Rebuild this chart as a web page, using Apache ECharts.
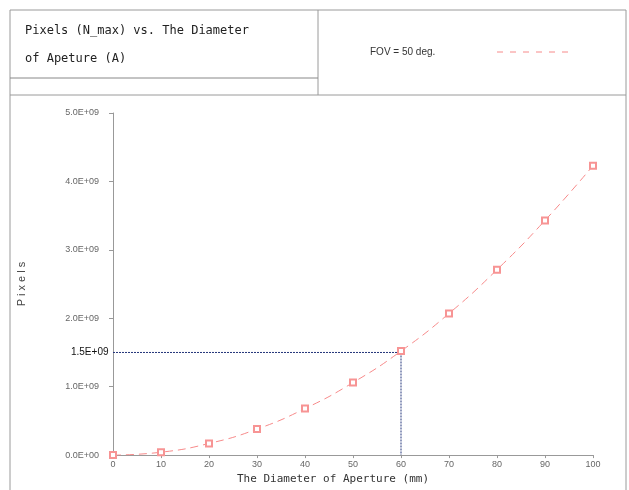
<!DOCTYPE html>
<html><head><meta charset="utf-8">
<script src="https://cdn.jsdelivr.net/npm/echarts@6/dist/echarts.min.js"></script>
<style>html,body{margin:0;padding:0;background:#fff}#c{width:629px;height:490px}</style>
</head><body><div id="c"></div>
<script>
const diameters = [0, 10, 20, 30, 40, 50, 60, 70, 80, 90, 100];
const pixels = [0, 0.042e9, 0.17e9, 0.38e9, 0.68e9, 1.06e9, 1.52e9, 2.07e9, 2.71e9, 3.43e9, 4.23e9];
const guideX = [0, 60, 60];
const guideY = [1.5e9, 1.5e9, 0];
const titleLines = ['Pixels (N_max) vs. The Diameter', 'of Apeture (A)'];
const legendLabel = 'FOV = 50 deg.';
const xName = 'The Diameter of Aperture (mm)';
const yName = 'P i x e l s';
const guideLabel = '1.5E+09';

const fmtY = v => {
  if (v === 0) return '0.0E+00';
  return (v / 1e9).toFixed(1) + 'E+09';
};

const chart = echarts.init(document.getElementById('c'));
const border = '#9a9a9a';
chart.setOption({
  animation: false,
  grid: {left: 113, top: 113, right: 36, bottom: 33},
  xAxis: {
    type: 'value', min: 0, max: 100, interval: 10,
    name: xName, nameLocation: 'middle', nameGap: 16,
    nameTextStyle: {fontFamily: 'DejaVu Sans Mono', fontSize: 11, color: '#333', padding: [0, 40, 0, 0]},
    axisLine: {lineStyle: {color: '#999'}},
    axisTick: {show: true, length: 3, lineStyle: {color: '#999'}},
    axisLabel: {fontSize: 9, color: '#666', margin: 5, fontFamily: 'Liberation Sans'},
    splitLine: {show: false}
  },
  yAxis: {
    type: 'value', min: 0, max: 5e9, interval: 1e9,
    name: yName, nameLocation: 'middle', nameGap: 86, nameRotate: 90,
    nameTextStyle: {fontFamily: 'Liberation Sans', fontSize: 11, color: '#444'},
    axisLine: {show: true, lineStyle: {color: '#999'}},
    axisTick: {show: true, length: 4, lineStyle: {color: '#999'}},
    axisLabel: {fontSize: 9, color: '#666', margin: 14, formatter: fmtY, fontFamily: 'Liberation Sans'},
    splitLine: {show: false}
  },
  series: [
    {
      type: 'line',
      data: guideX.map((x, i) => [x, guideY[i]]),
      symbol: 'none',
      lineStyle: {color: '#23357a', width: 1, type: [2, 1]},
      silent: true, z: 1,
      markPoint: {
        symbol: 'rect', symbolSize: 1, itemStyle: {color: 'transparent'},
        data: [{coord: [guideX[0], guideY[0]], label: {show: true, position: 'left', distance: 4, formatter: guideLabel, fontSize: 10, color: '#111', fontFamily: 'Liberation Sans'}}]
      }
    },
    {
      type: 'line',
      data: diameters.map((d, i) => [d, pixels[i]]),
      smooth: true,
      symbol: 'emptyRect', symbolSize: 6,
      itemStyle: {color: '#f79494', borderWidth: 1},
      lineStyle: {color: '#f78a8a', width: 1, type: [8, 5]},
      z: 3
    }
  ],
  graphic: [
    {type: 'line', shape: {x1: 10, y1: 10, x2: 626, y2: 10}, style: {stroke: border, lineWidth: 1}},
    {type: 'line', shape: {x1: 10, y1: 10, x2: 10, y2: 490}, style: {stroke: border, lineWidth: 1}},
    {type: 'line', shape: {x1: 626, y1: 10, x2: 626, y2: 490}, style: {stroke: border, lineWidth: 1}},
    {type: 'line', shape: {x1: 318, y1: 10, x2: 318, y2: 95}, style: {stroke: border, lineWidth: 1}},
    {type: 'line', shape: {x1: 10, y1: 78, x2: 318, y2: 78}, style: {stroke: '#888', lineWidth: 1}},
    {type: 'line', shape: {x1: 10, y1: 95, x2: 626, y2: 95}, style: {stroke: border, lineWidth: 1}},
    {type: 'text', left: 25, top: 25, style: {text: titleLines[0], font: '12px "DejaVu Sans Mono"', fill: '#222'}},
    {type: 'text', left: 25, top: 53, style: {text: titleLines[1], font: '12px "DejaVu Sans Mono"', fill: '#222'}},
    {type: 'text', left: 370, top: 47, style: {text: legendLabel, font: '10px "Liberation Sans"', fill: '#333'}},
    {type: 'line', shape: {x1: 497, y1: 52, x2: 571, y2: 52}, style: {stroke: '#f78a8a', lineWidth: 1, lineDash: [6, 7]}}
  ]
});
</script></body></html>
